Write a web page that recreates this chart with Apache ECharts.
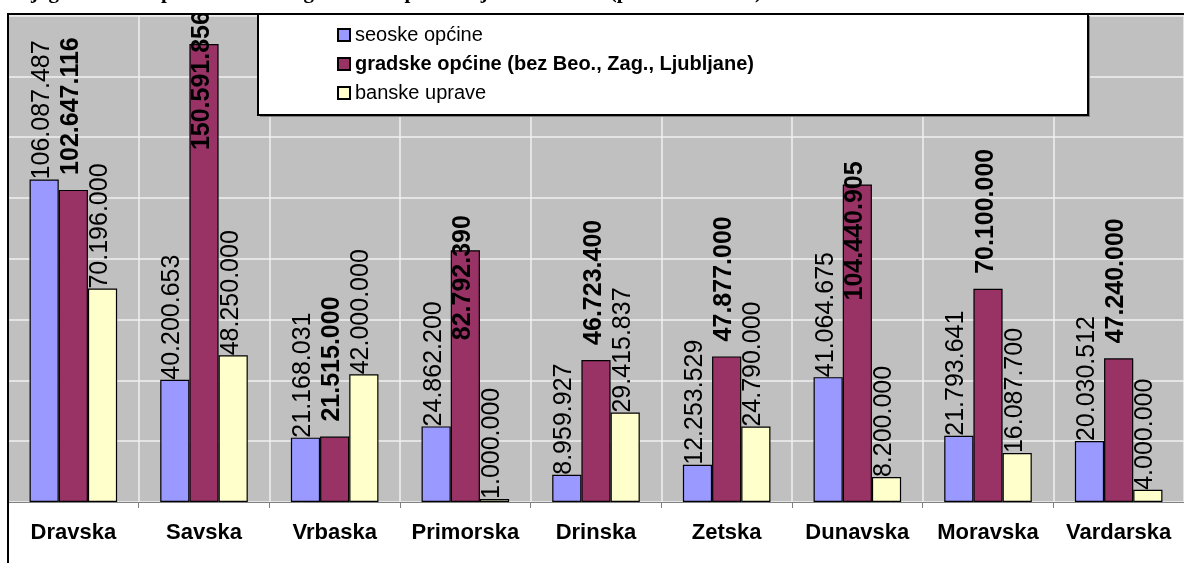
<!DOCTYPE html>
<html>
<head>
<meta charset="utf-8">
<script src="https://cdn.jsdelivr.net/npm/echarts@6/dist/echarts.min.js"></script>
<style>
  html, body { margin: 0; padding: 0; background: #fff; }
  #chart { width: 1184px; height: 563px; }
</style>
</head>
<body>
<div id="chart"></div>
<script>
// Banovine (categories on the x axis)
const categories = ['Dravska', 'Savska', 'Vrbaska', 'Primorska', 'Drinska', 'Zetska', 'Dunavska', 'Moravska', 'Vardarska'];

// Series names
const seriesNames = ['seoske općine', 'gradske općine (bez Beo., Zag., Ljubljane)', 'banske uprave'];

// Budget totals (dinars) per banovina
const seoske  = [106087487,  40200653, 21168031, 24862200,  8959927, 12253529,  41064675, 21793641, 20030512];
const gradske = [102647116, 150591856, 21515000, 82792390, 46723400, 47877000, 104440905, 70100000, 47240000];
const banske  = [ 70196000,  48250000, 42000000,  1000000, 29415837, 24790000,   8200000, 16087700,  4000000];

const captionText = 'Dijagram 3. Ukupni rashodi budgeta samoupravnih jedinica 1931. (po banovinama)';

// Labels of the city-municipality bars that are pulled down into the bar (px below bar top)
const insideLabelDistance = { Savska: 106, Primorska: 90, Dunavska: 116 };

const FONT = '"Liberation Sans", Arial, sans-serif';
const fmt = v => String(v).replace(/\B(?=(\d{3})+(?!\d))/g, '.');

// Rotated value label anchored relative to the bar's top edge (dy < 0: above the bar)
function labelStyle(bold, dy) {
  return {
    show: true,
    position: ['42%', dy],
    rotate: 90,
    align: 'left',
    verticalAlign: 'middle',
    fontFamily: FONT,
    fontSize: 25,
    fontWeight: bold ? 'bold' : 'normal',
    color: '#000',
    formatter: p => fmt(p.value)
  };
}

function makeSeries(name, values, color, bold, gap, overrides) {
  return {
    name: name,
    type: 'bar',
    barGap: '0%',
    barCategoryGap: '33%',
    itemStyle: { color: color, borderColor: '#000', borderWidth: 1.2 },
    label: labelStyle(bold, -gap),
    labelLayout: { hideOverlap: false },
    data: values.map((v, i) => {
      const d = overrides && overrides[categories[i]];
      if (d === undefined) return v;
      return { value: v, label: { position: ['42%', d] } };
    }),
    z: 3
  };
}

const chart = echarts.init(document.getElementById('chart'), null, { renderer: 'canvas' });

chart.setOption({
  animation: false,
  backgroundColor: '#fff',
  grid: {
    left: 8, top: 15.5, right: -12, bottom: 61,
    show: true, backgroundColor: '#c0c0c0', borderWidth: 0
  },
  xAxis: {
    type: 'category',
    data: categories,
    axisLine: { show: true, lineStyle: { color: '#808080', width: 1 } },
    axisTick: { show: true, length: 6, lineStyle: { color: '#808080' } },
    splitLine: { show: true, lineStyle: { color: '#f0f0f0', width: 1.5 } },
    axisLabel: {
      fontFamily: FONT, fontSize: 22, fontWeight: 'bold', color: '#000',
      margin: 20, interval: 0
    }
  },
  yAxis: {
    type: 'value',
    min: 0, max: 160000000, interval: 20000000,
    axisLine: { show: false }, axisTick: { show: false }, axisLabel: { show: false },
    splitLine: { show: true, lineStyle: { color: '#f0f0f0', width: 1.5 } }
  },
  legend: {
    orient: 'vertical',
    left: 337, top: 25,
    padding: 0,
    itemWidth: 12, itemHeight: 12, itemGap: 9,
    icon: 'rect',
    z: 12,
    textStyle: { fontFamily: FONT, fontSize: 20, color: '#000', lineHeight: 20 },
    data: [
      { name: seriesNames[0] },
      { name: seriesNames[1], textStyle: { fontWeight: 'bold' } },
      { name: seriesNames[2] }
    ]
  },
  graphic: [
    // legend box with a drop shadow
    { type: 'rect', z: 10, shape: { x: 260, y: 16, width: 830, height: 101 }, style: { fill: '#808080' } },
    { type: 'rect', z: 10, shape: { x: 258, y: 14, width: 830, height: 101 }, style: { fill: '#fff', stroke: '#000', lineWidth: 2 } },
    // white margin above the chart frame (hides label overflow)
    { type: 'rect', z: 15, shape: { x: 0, y: 0, width: 1184, height: 13 }, style: { fill: '#fff' } },
    // outer chart frame
    { type: 'rect', z: 20, shape: { x: 8, y: 14, width: 1250, height: 620 }, style: { fill: 'none', stroke: '#000', lineWidth: 2 } },
    // caption, cut by the top edge
    { type: 'text', z: 20, left: 10, top: -18,
      style: { text: captionText, font: 'bold 21px "Liberation Serif", "Times New Roman", serif', fill: '#000' } }
  ],
  series: [
    makeSeries(seriesNames[0], seoske,  '#9999ff', false, 10, null),
    makeSeries(seriesNames[1], gradske, '#993366', true, 15, insideLabelDistance),
    makeSeries(seriesNames[2], banske,  '#ffffcc', false, 10, null)
  ]
});
</script>
</body>
</html>
